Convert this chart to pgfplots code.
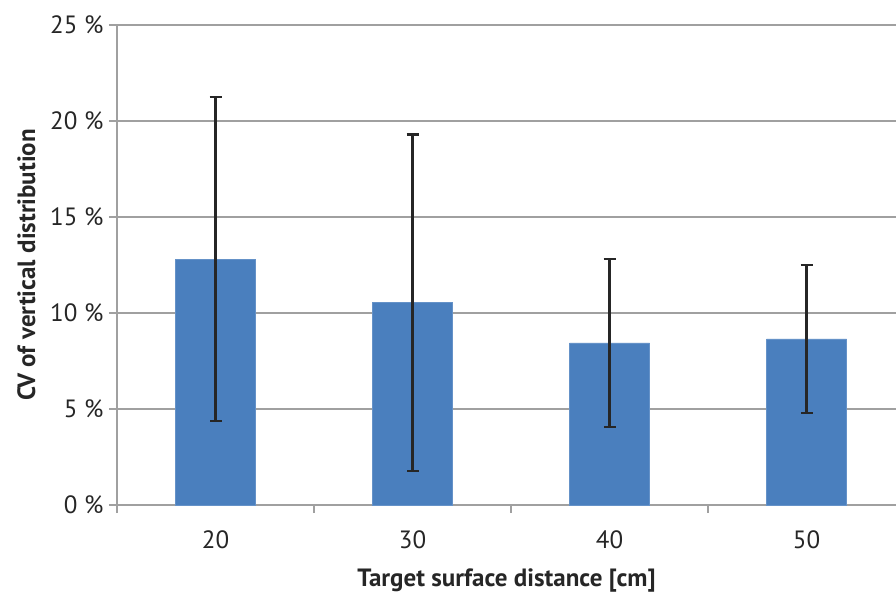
\documentclass[border=0pt]{standalone}
\usepackage{pgfplots}
\pgfplotsset{compat=1.18}
\usepackage{fontspec}
\setmainfont{PT Sans}
\definecolor{barblue}{HTML}{4A7FBE}
\definecolor{gridgray}{HTML}{A0A0A0}
\begin{document}
\begin{tikzpicture}[x=1pt,y=1pt]
\useasboundingbox (0,0) rectangle (896,592);
\begin{axis}[
  at={(117pt,87pt)}, anchor=south west,
  scale only axis, width=779pt, height=480pt,
  xmin=-0.5, xmax=3.454, ymin=0, ymax=25,
  axis x line*=bottom, axis y line*=left,
  axis line style={gridgray, line width=1.3pt},
  every outer x axis line/.append style={-}, every outer y axis line/.append style={-},
  ytick={0,5,...,25},
  yticklabel={\pgfmathparse{int(round(\tick))}\pgfmathresult~\%},
  ymajorgrids, grid style={gridgray, line width=1.3pt},
  tick style={gridgray, line width=1.3pt},
  major tick length=8pt, tick align=outside,
  xtick={-0.5,0.5,1.5,2.5}, xticklabels={},
  extra x ticks={0,1,2,3},
  extra x tick labels={20,30,40,50},
  extra x tick style={grid=none, major tick length=0pt},
  tick label style={font=\fontsize{25}{28}\selectfont, text=black!85},
  yticklabel style={xshift=-2pt},
  xticklabel style={yshift=-22pt},
  xlabel={\textbf{Target surface distance [cm]}},
  ylabel={\textbf{CV of vertical distribution}},
  label style={font=\fontsize{25}{28}\selectfont, text=black!85},
  xlabel style={yshift=-5pt},
  ylabel style={yshift=8pt},
  clip=false,
]
\addplot[ybar, bar width=80pt, fill=barblue, draw=barblue!85!white, line width=0.8pt,
  error bars/.cd, y dir=both, y explicit,
  error bar style={black!85, line width=2.4pt},
  error mark options={rotate=90, mark size=6pt, line width=2.4pt, black!85}]
  coordinates {
  (0,12.81) +- (0,8.44)
  (1,10.53) +- (0,8.77)
  (2,8.44) +- (0,4.37)
  (3,8.65) +- (0,3.86)
};
\end{axis}
\end{tikzpicture}
\end{document}
